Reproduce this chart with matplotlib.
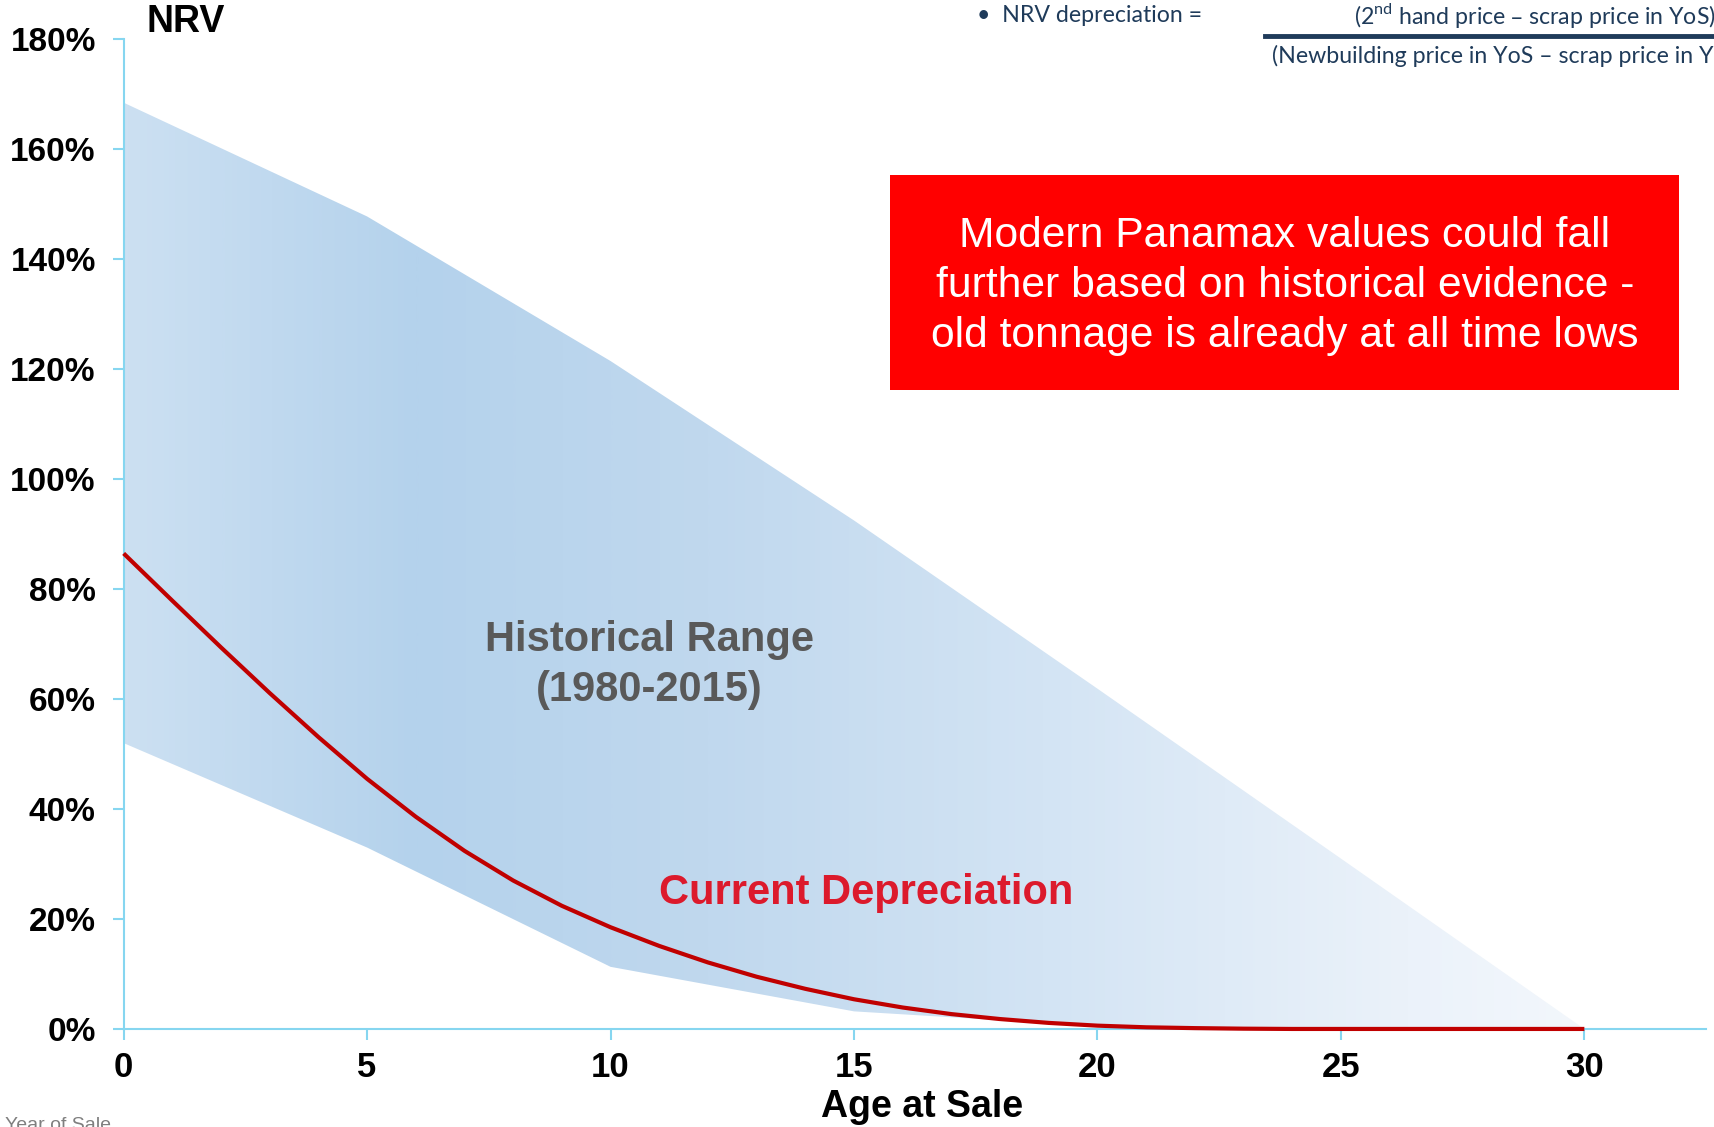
import numpy as np
import matplotlib.pyplot as plt
from matplotlib.colors import LinearSegmentedColormap

# Historical range band (NRV %, by age at sale)
band_age = [0, 5, 10, 15, 20, 25, 30]
band_high = [168.5, 147.8, 121.5, 92.5, 61.9, 31.0, 0.0]
band_low = [52.0, 33.0, 11.3, 3.2, 0.5, 0.0, 0.0]

# Current depreciation curve
curve_age = list(range(0, 31))
curve_pct = [86.5, 77.9, 69.4, 61.1, 53.1, 45.5, 38.6, 32.4, 27.0, 22.4,
             18.5, 15.1, 12.1, 9.5, 7.3, 5.4, 3.9, 2.7, 1.8, 1.1,
             0.6, 0.3, 0.15, 0.05, 0.0, 0.0, 0.0, 0.0, 0.0, 0.0, 0.0]

y_ticks = [0, 20, 40, 60, 80, 100, 120, 140, 160, 180]
y_labels = [f'{v}%' for v in y_ticks]
x_ticks = [0, 5, 10, 15, 20, 25, 30]

arial = ['Liberation Sans', 'DejaVu Sans']
lato = ['Lato', 'DejaVu Sans']
axis_col = '#86D6F0'

fig = plt.figure(figsize=(17.15, 11.27), dpi=100)
ax = fig.add_axes([0.0721, 0.087, 0.9227, 0.878])
ax.set_xlim(0, 32.5)
ax.set_ylim(0, 180)

# band with horizontal gradient
poly = ax.fill_between(band_age, band_low, band_high, facecolor='none', edgecolor='none')
cmap = LinearSegmentedColormap.from_list('band', [
    (0.0, '#CCE0F2'), (0.2, '#B4D2EC'), (0.4, '#C0D8EE'),
    (0.63, '#D3E4F4'), (0.88, '#EBF2FA'), (1.0, '#F3F7FC')])
grad = np.linspace(0, 1, 512).reshape(1, -1)
img = ax.imshow(grad, extent=[0, 30, 0, 170], aspect='auto', cmap=cmap,
                origin='lower', zorder=1)
img.set_clip_path(poly.get_paths()[0], transform=ax.transData)

ax.plot(curve_age, curve_pct, color='#C00000', linewidth=3, zorder=3,
        clip_on=False, solid_capstyle='butt', solid_joinstyle='round')

for s in ['top', 'right']:
    ax.spines[s].set_visible(False)
for s in ['left', 'bottom']:
    ax.spines[s].set_color(axis_col)
    ax.spines[s].set_linewidth(1.5)
    ax.spines[s].set_zorder(2)

ax.set_yticks(y_ticks)
ax.set_yticklabels(y_labels, fontfamily=arial, fontweight='bold', fontsize=24)
ax.set_xticks(x_ticks)
ax.set_xticklabels([str(v) for v in x_ticks], fontfamily=arial,
                   fontweight='bold', fontsize=25)
ax.tick_params(axis='y', colors=axis_col, labelcolor='black', length=8,
               width=1.5, direction='out', pad=12)
ax.tick_params(axis='x', colors=axis_col, labelcolor='black', length=8,
               width=1.5, direction='out', pad=8)

# annotations
ax.text(10.8, 66.2, 'Historical Range\n(1980-2015)', ha='center', va='center',
        fontfamily=arial, fontweight='bold', fontsize=30, color='#595959',
        linespacing=1.31, zorder=4)
ax.text(15.25, 24.8, 'Current Depreciation', ha='center', va='center',
        fontfamily=arial, fontweight='bold', fontsize=30, color='#DC1A2C',
        zorder=4)

fig.text(186 / 1715, 1 - 22 / 1127, 'NRV', ha='center', va='center',
         fontfamily=arial, fontweight='bold', fontsize=27)
fig.text(922 / 1715, 1 - 1107 / 1127, 'Age at Sale', ha='center', va='center',
         fontfamily=arial, fontweight='bold', fontsize=27)
fig.text(5 / 1715, 1 - 1117 / 1127, 'Year of Sale', ha='left', va='top',
         fontfamily=arial, fontsize=14, color='#7F7F7F')

# red message box
fig.patches.append(plt.Rectangle((890 / 1715, 1 - 390 / 1127), 789 / 1715,
                                 215 / 1127, transform=fig.transFigure,
                                 facecolor='#FF0000', edgecolor='none'))
fig.text(1285 / 1715, 1 - 286 / 1127,
         'Modern Panamax values could fall\nfurther based on historical evidence -\nold tonnage is already at all time lows',
         ha='center', va='center', fontfamily=arial, fontsize=30.7,
         color='white', linespacing=1.32)

# formula in the top-right corner
navy = '#1F3B5A'
fig.text(977 / 1715, 1 - 15 / 1127, '\u2022  NRV depreciation =', ha='left',
         va='center', fontfamily=lato, fontsize=16.7, color=navy)
fig.text(1354 / 1715, 1 - 15 / 1127,
         '(2$^{\\mathregular{nd}}$ hand price \u2013 scrap price in YoS)',
         ha='left', va='center', fontfamily=lato, fontsize=16.7, color=navy)
fig.text(1272 / 1715, 1 - 56 / 1127,
         '(Newbuilding price in YoS \u2013 scrap price in YoS)', ha='left',
         va='center', fontfamily=lato, fontsize=16.7, color=navy)
fig.add_artist(plt.Line2D([1265 / 1715, 1], [1 - 36 / 1127, 1 - 36 / 1127],
                          transform=fig.transFigure, color=navy, linewidth=3.5))

fig.savefig('out.png', dpi=100)
